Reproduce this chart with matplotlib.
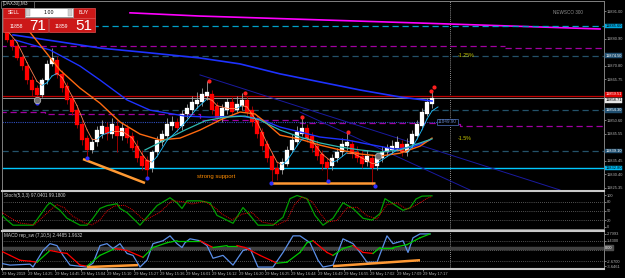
import numpy as np
import matplotlib.pyplot as plt
from matplotlib.patches import Rectangle

plt.rcParams['font.family'] = ['Liberation Sans Narrow', 'Liberation Sans', 'DejaVu Sans']

# velas (precio)
opens = [11883.4, 11880.4, 11878.2, 11874.1, 11870.7, 11865.5, 11862.5, 11859.9, 11865.5, 11871.5,
         11873.0, 11867.8, 11863.3, 11858.8, 11854.3, 11849.1, 11843.9, 11839.5, 11842.4, 11845.4,
         11848.0, 11845.4, 11848.4, 11844.7, 11847.6, 11844.7, 11840.9, 11837.2, 11835.7, 11832.8,
         11838.7, 11842.4, 11844.7, 11848.4, 11849.9, 11848.4, 11852.9, 11854.3, 11856.6, 11857.3,
         11859.6, 11860.3, 11855.8, 11851.4, 11854.3, 11857.3, 11854.3, 11855.8, 11858.1, 11854.3,
         11850.6, 11846.2, 11841.7, 11837.2, 11832.8, 11832.0, 11834.2, 11839.5, 11842.4, 11845.4,
         11847.6, 11844.7, 11840.9, 11838.0, 11835.0, 11833.5, 11836.5, 11838.7, 11840.9, 11841.7,
         11838.7, 11837.2, 11835.0, 11836.5, 11833.5, 11836.5, 11838.7, 11839.5, 11840.2, 11841.7,
         11838.7, 11841.7, 11844.7, 11848.4, 11852.9, 11856.6]
closes = [11880.4, 11878.2, 11873.7, 11870.7, 11865.5, 11861.8, 11859.9, 11865.5, 11871.5, 11873.7,
          11867.4, 11862.5, 11858.1, 11853.6, 11848.8, 11843.2, 11839.5, 11842.4, 11846.9, 11848.4,
          11845.4, 11849.1, 11844.7, 11847.6, 11843.9, 11840.2, 11836.5, 11833.5, 11832.0, 11838.7,
          11843.2, 11845.4, 11849.1, 11849.9, 11847.6, 11852.9, 11855.1, 11857.3, 11858.1, 11860.3,
          11861.0, 11854.3, 11851.4, 11855.1, 11857.3, 11853.6, 11856.6, 11858.1, 11853.6, 11849.9,
          11845.4, 11840.9, 11836.5, 11832.0, 11830.5, 11835.0, 11839.5, 11843.2, 11846.2, 11847.6,
          11843.9, 11840.2, 11837.2, 11834.2, 11832.8, 11836.5, 11838.7, 11841.7, 11842.4, 11838.0,
          11836.5, 11834.2, 11837.2, 11832.8, 11836.5, 11838.7, 11840.2, 11840.9, 11842.4, 11838.7,
          11841.7, 11845.4, 11849.1, 11853.6, 11857.3, 11858.7]
highs = [11884.1, 11881.2, 11878.9, 11874.8, 11871.5, 11867.0, 11863.7, 11866.3, 11873.0, 11877.4,
         11874.5, 11869.2, 11864.8, 11859.9, 11855.8, 11850.6, 11845.0, 11843.9, 11848.4, 11850.6,
         11849.9, 11851.4, 11850.6, 11849.9, 11849.1, 11846.2, 11843.2, 11839.5, 11837.2, 11839.5,
         11844.7, 11846.9, 11851.4, 11852.1, 11851.4, 11854.3, 11856.6, 11859.6, 11861.0, 11862.5,
         11865.1, 11861.8, 11857.3, 11856.6, 11858.8, 11859.2, 11859.6, 11860.7, 11859.6, 11855.8,
         11852.1, 11847.6, 11843.2, 11838.7, 11835.0, 11836.5, 11840.9, 11845.4, 11848.4, 11851.7,
         11849.1, 11846.2, 11843.2, 11839.5, 11836.5, 11838.0, 11840.2, 11843.9, 11846.2, 11843.2,
         11840.9, 11839.5, 11839.5, 11838.0, 11838.0, 11840.9, 11841.7, 11843.2, 11844.7, 11843.2,
         11843.9, 11846.9, 11850.6, 11855.1, 11858.8, 11861.8]
lows = [11879.7, 11876.7, 11873.0, 11869.2, 11864.0, 11859.6, 11857.3, 11859.2, 11864.0, 11870.7,
        11866.3, 11861.0, 11856.6, 11852.5, 11847.6, 11841.3, 11836.5, 11838.3, 11840.9, 11843.9,
        11843.2, 11843.9, 11838.7, 11843.2, 11842.1, 11839.5, 11835.0, 11832.0, 11829.0, 11831.3,
        11837.6, 11840.9, 11843.9, 11846.9, 11846.2, 11846.9, 11851.4, 11852.9, 11855.1, 11855.8,
        11858.1, 11852.9, 11849.9, 11849.9, 11852.9, 11852.5, 11853.6, 11854.3, 11852.1, 11848.4,
        11843.9, 11839.5, 11835.0, 11827.2, 11828.3, 11830.5, 11833.5, 11838.7, 11841.3, 11844.7,
        11842.4, 11838.7, 11835.7, 11832.0, 11827.9, 11832.0, 11835.0, 11837.2, 11839.5, 11836.5,
        11835.0, 11832.8, 11833.5, 11826.4, 11832.0, 11835.0, 11837.2, 11838.0, 11839.5, 11837.2,
        11837.2, 11840.2, 11843.9, 11847.6, 11852.1, 11855.1]

# medias moviles (barra, precio)
fast_bar = [0, 2, 4, 6, 7, 8, 9, 10, 11, 12, 14, 16, 17, 18, 19, 21, 23, 25, 27, 28,
            29, 30, 32, 34, 36, 38, 40, 41, 42, 44, 46, 47, 48, 50, 52, 54, 55, 56, 58, 59,
            60, 61, 63, 65, 66, 68, 69, 71, 73, 74, 76, 78, 80, 81, 82, 83, 84, 85, 86.2]
fast_val = [11884.0, 11879.5, 11872.0, 11865.0, 11863.5, 11864.5, 11867.0, 11868.0, 11866.5, 11863.0,
            11856.0, 11847.0, 11843.5, 11843.5, 11845.0, 11846.5, 11846.5, 11844.0, 11838.0, 11835.5,
            11835.0, 11837.0, 11843.0, 11846.5, 11850.5, 11855.0, 11858.5, 11858.0, 11856.0, 11855.0,
            11855.0, 11856.0, 11855.5, 11850.0, 11842.0, 11835.0, 11834.0, 11835.5, 11841.0, 11843.5,
            11844.0, 11843.0, 11838.0, 11835.0, 11835.5, 11838.5, 11838.5, 11836.5, 11834.5, 11834.5,
            11837.0, 11839.5, 11838.5, 11840.5, 11843.5, 11847.0, 11851.0, 11854.0, 11855.5]
orange_bar = [2.6, 6.6, 10.6, 14.6, 18.6, 22.6, 26.6, 30.6, 34.6, 38.6, 42.6, 46.6, 49.6, 51.6,
              54.6, 58.6, 62.6, 66.6, 70.6, 74.6, 78.6, 82.6, 85]
orange_val = [11887.9, 11878.6, 11869.2, 11862.5, 11856.9, 11849.9, 11845.4, 11843.2, 11843.9,
              11846.9, 11850.6, 11853.6, 11852.9, 11849.9, 11845.0, 11843.5, 11841.3, 11839.5,
              11838.0, 11837.2, 11838.3, 11840.9, 11843.9]
teal_bar = [27.6, 31.6, 35.6, 39.6, 43.6, 47.6, 50.6, 54.6, 58.6, 62.6, 66.6, 70.6, 74.6, 78.6, 82.6, 85]
teal_val = [11839.5, 11843.2, 11846.9, 11850.3, 11851.7, 11852.1, 11850.6, 11846.9, 11844.3,
            11842.1, 11840.6, 11839.5, 11838.7, 11839.5, 11842.1, 11843.6]
blue_slow_bar = [1.2, 10.6, 18.6, 28.6, 38.6, 46.6, 54.6, 62.6, 70.6, 78.6, 85]
blue_slow_val = [11882.3, 11879.7, 11877.4, 11875.6, 11873.7, 11871.5, 11867.8, 11864.8,
                 11861.8, 11859.2, 11857.7]
blue_fast_bar = [1.6, 8.6, 14.6, 18.6, 24, 28.6, 35.6, 40.6, 46.6, 50.6, 54.6, 58.6, 62.6,
                 68, 73.2, 77.6, 81.2, 84.6]
blue_fast_val = [11880.4, 11876.7, 11870.7, 11865.5, 11858.1, 11854.3, 11852.1, 11851.7, 11852.1,
                 11851.0, 11848.0, 11846.2, 11844.3, 11843.2, 11841.3, 11839.8, 11840.6, 11843.2]

# lineas horizontales y objetos
ask_price = 11859.51
bid_price = 11858.71
lvl_cyan_top = 11885.6
lvl_purple_top = [11878.2, 11877.6]
lvl_teal = [11874.5, 11854.3, 11839.1]
lvl_blue_dot = 11849.9
lvl_support = 11832.8
purple2_bar = [-1.4, 7.6, 38.6, 58.6, 86.6, 90.6, 119.4]
purple2_val = [11853.6, 11852.9, 11850.6, 11849.5, 11849.1, 11848.4, 11846.9]
magenta_bar = [24.6, 38.6, 82.6, 118.6]
magenta_val = [11890.5, 11889.3, 11886.7, 11884.5]
navy1 = ([38.6, 110.6], [11867.4, 11824.6])
navy2 = ([58.6, 92.6], [11853.6, 11824.6])
supp1 = ([15.2, 27.6], [11836.1, 11827.2])
supp2 = ([53.0, 73.6], [11827.2, 11827.2])
low_dot_bar = [6, 16, 28, 52.8, 64.2, 73.6]
low_dot_val = [11857.0, 11836.5, 11829.0, 11827.2, 11827.9, 11826.1]
high_dot_bar = [40.4, 47.6, 59, 68.2, 84.8, 85.4]
high_dot_val = [11865.1, 11860.7, 11851.7, 11846.2, 11861.4, 11862.9]
# las marcas tapadas por etiquetas resaltadas no se muestran
price_ticks = [11825.35, 11830.40, 11835.45, 11845.55, 11850.60,
               11865.75, 11870.80, 11880.90, 11891.00]

# estocastico
st_bar = [-1.4, 0, 1.2, 5.2, 8, 8.6, 10.6, 12, 14.6, 16, 17.2, 18.6, 20, 22, 22.6, 24, 26.6,
          30, 32.6, 34, 35, 36, 38.6, 40.6, 42, 43.2, 45.2, 47.2, 48.6, 50.2, 53.2, 55.2, 56.6,
          58, 60, 61.6, 63.2, 65.2, 67.2, 69.2, 71.2, 73, 74.6, 75.6, 77.2, 79.2, 80.6, 81.8, 83, 85]
st_val = [42, 21, 5, 5, 67, 76, 52, 27, 5, 5, 27, 58, 67, 73, 58, 45, 5,
          67, 92, 76, 58, 82, 82, 76, 36, 27, 11, 61, 36, 5, 5, 30, 89,
          99, 89, 36, 5, 27, 76, 58, 27, 21, 42, 89, 73, 52, 60, 88, 97, 98]
sig_bar = [-1.4, 0.5, 2.5, 5.5, 8.8, 10, 11.5, 13, 15.5, 17, 18.5, 20, 21.5, 23.5, 25, 27.5,
           30.5, 33, 35, 37, 39.5, 41.5, 43, 45, 47, 49, 51, 54, 56, 57.5, 59, 61, 62.5, 64,
           66, 68, 70, 72, 74, 76, 78, 80, 82, 84, 85]
sig_val = [50, 30, 12, 6, 55, 70, 60, 35, 12, 6, 20, 50, 66, 68, 55, 20,
           45, 82, 80, 72, 80, 62, 40, 22, 40, 45, 15, 6, 20, 70, 95, 80, 45, 15,
           20, 60, 62, 35, 25, 70, 75, 55, 70, 90, 96]

# MACD
mb_bar = [-1.4, 0.6, 4.6, 5.2, 7.2, 8.6, 10, 11.2, 12.6, 16, 17.2, 18.6, 20, 21.2, 22.6, 24,
          25.2, 26.6, 28, 29.2, 31.2, 32.6, 34, 35, 35.6, 36.6, 38.6, 40, 41.2, 43.2, 45.2, 47.2,
          48.6, 50.2, 53.2, 55.2, 57.2, 58.6, 60.6, 62.2, 63.2, 65.2, 67.2, 69.2, 70.6, 72, 74,
          76, 77.2, 79.2, 80.2, 81.2, 82.6, 84.6]
mb_val = [-3.06, -3.45, -3.26, -3.84, -0.52, 0.85, 0.46, -1.50, -3.45, -3.84, -3.06, 0.46, 0.85,
          -0.13, 0.85, -1.11, -1.50, -3.84, -2.47, 0.85, 1.43, 2.41, 0.85, 0.07, 1.04, 1.82, 1.43,
          0.46, -2.08, -1.50, -3.45, -0.52, -0.13, -3.84, -3.84, -0.91, 2.41, 2.41, 1.04, -2.47,
          -3.84, -3.45, 1.82, 0.85, -0.91, -2.87, -2.87, 2.41, 0.85, 1.43, -0.91, 2.02, 2.80, 2.80]
ms_bar = [-1.4, 0.6, 2.6, 4.6, 6, 8.6, 10.6, 12, 14.6, 16, 18.6, 21.6, 24, 27.2, 29.2, 32, 34,
          36, 38.6, 41.2, 44, 46, 47.6, 50.6, 54, 56, 58.6, 60, 61.2, 64, 65.2, 67.2, 69.2, 71.2,
          73.2, 74.6, 77.2, 80, 82.6, 84.6]
ms_val = [-0.52, -1.50, -2.47, -2.67, -2.87, -0.52, -0.91, -1.11, -3.45, -3.65, -1.50, -0.13,
          -0.52, -1.89, 0.07, 1.04, 1.43, 1.43, 1.43, 0.07, 0.46, 0.46, 0.07, -1.50, -3.06, -2.87,
          -0.91, 1.04, 1.43, -0.91, -1.50, -0.13, 0.46, -0.91, -1.11, 0.07, 0.07, 0.65, 2.02, 2.80]
macd_div1 = ([16, 26.2], [-3.84, -3.45])
macd_div2 = ([65.2, 82.6], [-3.65, -2.47])

time_labels = ["29 May 2019", "29 May 14:25", "29 May 14:45", "29 May 15:04", "29 May 15:10",
               "29 May 15:27", "29 May 15:36", "29 May 16:01", "29 May 16:12", "29 May 16:20",
               "29 May 16:25", "29 May 16:44", "29 May 16:49", "29 May 16:55", "29 May 17:02",
               "29 May 17:09", "29 May 17:17"]

W, H = 625.0, 278.0
fig = plt.figure(figsize=(6.25, 2.78), dpi=100, facecolor='black')
main = fig.add_axes([2/W, 1-190/H, 602/W, 189/H])
stoch = fig.add_axes([2/W, 1-229/H, 602/W, 38/H])
macd = fig.add_axes([2/W, 1-269/H, 602/W, 38/H])

for ax in (main, stoch, macd):
    ax.set_facecolor('black')
    ax.set_xlim(-1, 119.4)
    for s in ax.spines.values():
        s.set_color('#808080')
        s.set_linewidth(0.7)
    ax.yaxis.tick_right()
    ax.tick_params(axis='y', colors='#B0B0B0', labelsize=2.9, length=1.5, width=0.5, pad=0.5)
    ax.tick_params(axis='x', bottom=False, labelbottom=False)
    ax.axvline(88.6, color='#C0C0C0', lw=0.6, ls=(0, (1, 1.5)), zorder=1)
for ax in (stoch, macd):
    ax.spines['top'].set_color('#C8C8C8')
    ax.spines['top'].set_linewidth(1.5)
macd.spines['bottom'].set_color('#C8C8C8')
macd.spines['bottom'].set_linewidth(1.5)

# ---- panel principal ----
main.set_ylim(11824.6, 11894.9)
main.set_yticks(price_ticks)
main.set_yticklabels(["%.2f" % p for p in price_ticks])

main.plot(magenta_bar, magenta_val, color='#FF00FF', lw=1.2, zorder=2)
main.axhline(lvl_cyan_top, xmin=0.15, color='#00A0C8', lw=0.9, ls=(0, (5, 3)), zorder=2)
main.plot([-1.4, 99.6], [lvl_purple_top[0]] * 2, color='#A000A0', lw=0.9, ls=(0, (5, 3)), zorder=2)
main.plot([99.6, 119.4], [lvl_purple_top[1]] * 2, color='#A000A0', lw=0.9, ls=(0, (5, 3)), zorder=2)
for lv in lvl_teal:
    main.axhline(lv, color='#24526A', lw=0.9, ls=(0, (5, 3)), zorder=2)
main.plot(purple2_bar, purple2_val, color='#A000A0', lw=0.9, ls=(0, (5, 3)),
          drawstyle='steps-post', zorder=2)
main.plot([-1.4, 86], [lvl_blue_dot] * 2, color='#3050C0', lw=0.8, ls=(0, (1, 1)), zorder=2)
main.axhline(ask_price, color='#C00000', lw=0.9, zorder=2)
main.axhline(bid_price, color='#909090', lw=0.7, zorder=2)
main.axhline(lvl_support, color='#00C8FF', lw=1.0, zorder=2)
main.plot(*navy1, color='#1A1AA0', lw=0.7, zorder=2)
main.plot(*navy2, color='#1A1AA0', lw=0.7, zorder=2)

for i in range(len(opens)):
    o, c, h, l = opens[i], closes[i], highs[i], lows[i]
    up = c >= o
    body = 'white' if up else '#FF0000'
    wick = '#A0A0A0' if up else '#B00000'
    main.vlines(i, l, h, color=wick, lw=0.6, zorder=3)
    main.add_patch(Rectangle((i - 0.32, min(o, c)), 0.64, max(abs(c - o), 0.2),
                             facecolor=body, edgecolor=body, lw=0.2, zorder=3))

main.plot(blue_slow_bar, blue_slow_val, color='#1E32FF', lw=1.2, zorder=4)
main.plot(blue_fast_bar, blue_fast_val, color='#1E32FF', lw=1.0, zorder=4)
main.plot(orange_bar, orange_val, color='#FF6A10', lw=1.0, zorder=4)
main.plot(teal_bar, teal_val, color='#30B8B0', lw=0.9, zorder=4)
for k in range(len(fast_bar) - 1):
    col = '#20C0FF' if fast_val[k + 1] > fast_val[k] else '#FF7F50'
    main.plot(fast_bar[k:k + 2], fast_val[k:k + 2], color=col, lw=0.6, zorder=4)

main.plot(*supp1, color='#FF9933', lw=1.8, zorder=5, solid_capstyle='butt')
main.plot(*supp2, color='#FF9933', lw=1.8, zorder=5, solid_capstyle='butt')
main.scatter(low_dot_bar, low_dot_val, s=4, color='#3030FF', zorder=5)
main.scatter(high_dot_bar, high_dot_val, s=4, color='#FF2020', zorder=5)
main.scatter([6, 74.2], [11858.1, 11837.2], s=22, facecolor='#707070', edgecolor='#C0C0C0',
             lw=0.5, zorder=6)

main.text(38, 11829.8, "strong support", color='#FF8C00', fontsize=4.3, va='center', zorder=6)
main.text(90.2, 11874.5, "-1.25%", color='#C8C800', fontsize=3.8, va='center')
main.text(90.2, 11843.9, "-1.5%", color='#C8C800', fontsize=3.8, va='center')
main.text(86.2, lvl_blue_dot, "11849.90", color='#6080C0', fontsize=3.3, va='center',
          bbox=dict(boxstyle='square,pad=0.2', fc='black', ec='#4060A0', lw=0.6))
main.text(0.965, 0.94, "NEWSCO 300", transform=main.transAxes, color='#909090', fontsize=3.3,
          ha='right', va='center')

# etiquetas de precio resaltadas (valor, color de fondo, color de texto, alineacion)
hl = [(lvl_cyan_top, '#00A8E0', 'black', 'center'), (lvl_teal[0], '#1F4E6F', 'white', 'center'),
      (bid_price, '#E8E8E8', 'black', 'top'), (ask_price, '#E00000', 'white', 'bottom'),
      (lvl_teal[1], '#1F4E6F', 'white', 'center'), (lvl_teal[2], '#1F4E6F', 'white', 'center'),
      (lvl_support, '#00B8F0', 'black', 'center')]
for p, fc, tc, va in hl:
    main.text(1.002, p, "%.2f" % p, transform=main.get_yaxis_transform(), fontsize=2.9,
              color=tc, va=va, ha='left',
              bbox=dict(boxstyle='square,pad=0.1', fc=fc, ec=fc, lw=0.3))

# ---- estocastico ----
stoch.set_ylim(-7.1, 113.3)
stoch.set_yticks([0, 20, 50, 80, 100])
stoch.set_yticklabels(['0', '20', '50', '80', '100'])
for lv in (20, 50, 80):
    stoch.axhline(lv, color='#A0A0A0', lw=0.5, ls=(0, (1, 2)))
stoch.plot(st_bar, st_val, color='#00A000', lw=0.9, zorder=3)
stoch.plot(sig_bar, sig_val, color='#E00000', lw=0.7, ls=(0, (1, 1)), zorder=3)
stoch.text(0.004, 0.88, "Stoch(5,3,3) 97.0401 99.1800", transform=stoch.transAxes,
           color='#D0D0D0', fontsize=3.3, va='center')

# ---- MACD ----
macd.set_ylim(-4.23, 3.385)
macd.set_yticks([2.7993, 1.43, -2.67, -3.6461])
macd.set_yticklabels(['2.7993', '1.4300', '-2.6700', '-3.6461'])
macd.axhline(0, color='#404040', lw=2.5, zorder=1)
for lv in (1.43, -0.52, -2.67):
    macd.axhline(lv, color='#A0A0A0', lw=0.5, ls=(0, (1, 2)))
macd.text(1.002, 0, "0.00", transform=macd.get_yaxis_transform(), fontsize=2.9, color='white',
          va='center', bbox=dict(boxstyle='square,pad=0.1', fc='#505050', ec='#505050'))
macd.plot(mb_bar, mb_val, color='#5B8FE8', lw=0.9, zorder=3)
for k in range(len(ms_bar) - 1):
    col = '#00C800' if ms_val[k + 1] >= ms_val[k] else '#FF0000'
    macd.plot(ms_bar[k:k + 2], ms_val[k:k + 2], color=col, lw=0.9, zorder=3)
macd.plot(*macd_div1, color='#FF9933', lw=1.8, zorder=4, solid_capstyle='butt')
macd.plot(*macd_div2, color='#FF9933', lw=1.8, zorder=4, solid_capstyle='butt')
macd.text(0.004, 0.88, "MACD rep_sw (7,10,5) 2.4485 1.9632", transform=macd.transAxes,
          color='#D0D0D0', fontsize=3.3, va='center')

pos = np.linspace(-1, 83.2, len(time_labels))
macd.set_xticks(pos)
macd.set_xticklabels(time_labels, ha='left')
macd.tick_params(axis='x', bottom=True, labelbottom=True, colors='#B0B0B0', labelsize=2.9,
                 length=1.5, width=0.5, pad=0.5)

# ---- panel de operaciones ----
ov = fig.add_axes([0, 0, 1, 1], zorder=10)
ov.set_xlim(0, W)
ov.set_ylim(H, 0)
ov.axis('off')
ov.patch.set_alpha(0)
ov.add_patch(Rectangle((1, 0.5), 33, 7, fc='black', ec='#808080', lw=0.5))
ov.text(3, 4, "[DAX30],M3", color='#D0D0D0', fontsize=3.4, va='center')
red = '#CC1818'
ov.add_patch(Rectangle((3, 8), 22, 10, fc=red, ec='#E05050', lw=0.5))
ov.add_patch(Rectangle((73, 8), 22, 10, fc=red, ec='#E05050', lw=0.5))
ov.add_patch(Rectangle((25, 8), 48, 9, fc='white', ec='#A0A0A0', lw=0.5))
ov.add_patch(Rectangle((26, 9), 4, 7, fc='#D0D0D0', ec='#A0A0A0', lw=0.3))
ov.add_patch(Rectangle((68, 9), 4, 7, fc='#D0D0D0', ec='#A0A0A0', lw=0.3))
ov.text(49, 12.5, "1.00", color='black', fontsize=3.8, ha='center', va='center')
ov.text(14, 13, "SELL", color='white', fontsize=3.6, ha='center', va='center')
ov.text(84, 13, "BUY", color='white', fontsize=3.6, ha='center', va='center')
ov.add_patch(Rectangle((3, 18), 45, 14, fc=red, ec='#E05050', lw=0.5))
ov.add_patch(Rectangle((49, 18), 46, 14, fc=red, ec='#E05050', lw=0.5))
ov.text(10, 26.5, "11858", color='white', fontsize=3.6, va='center')
ov.text(29, 25.5, "71", color='white', fontsize=11, va='center')
ov.text(55, 26.5, "11859", color='white', fontsize=3.6, va='center')
ov.text(75, 25.5, "51", color='white', fontsize=11, va='center')

fig.savefig('out.png', dpi=100, facecolor='black')
